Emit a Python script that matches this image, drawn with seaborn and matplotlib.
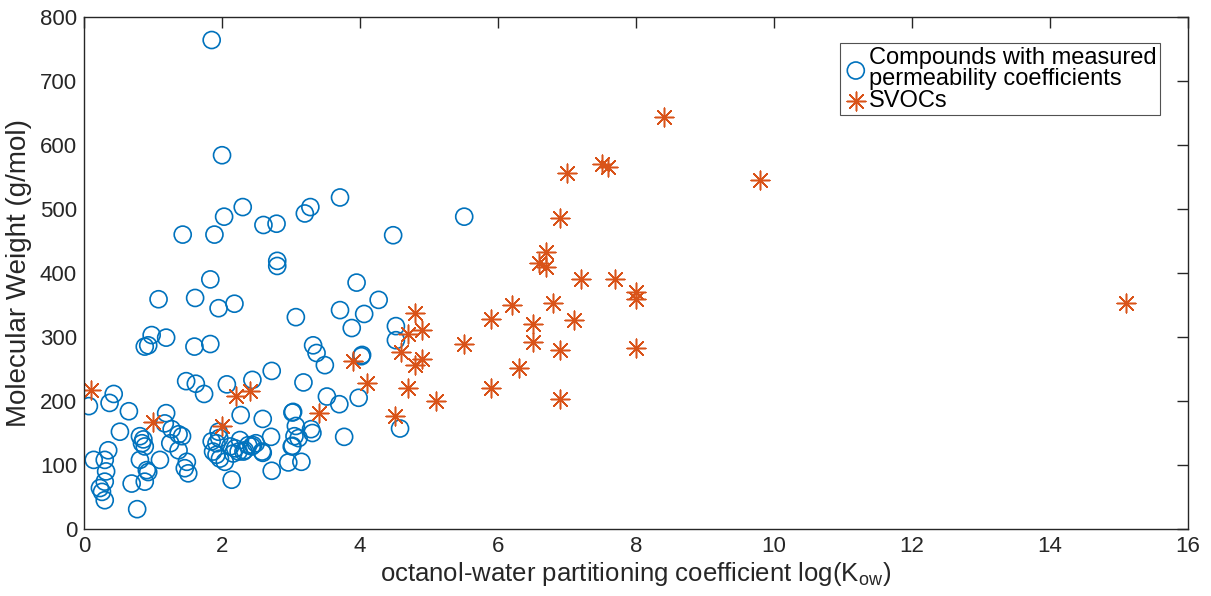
import matplotlib
matplotlib.use("Agg")
import matplotlib.pyplot as plt
import seaborn as sns
import pandas as pd

# Compounds with measured permeability coefficients
perm_logkow = [
    1.85, 2.00, 2.30, 2.03, 1.43, 1.89, 2.60, 2.79, 3.20, 3.28, 3.71, 4.48, 5.51,
    2.80, 2.80, 1.83, 3.95, 1.08, 1.61, 1.95, 2.18, 0.98, 1.19, 0.93, 0.88, 1.60,
    1.83, 1.48, 1.62, 1.74, 2.07, 2.44, 2.72, 0.07, 0.43, 0.37, 0.65, 1.19, 0.52,
    2.27, 2.59, 2.71, 2.72, 1.17, 1.27, 1.37, 1.42, 1.25, 1.37, 1.49, 1.46, 1.51,
    1.10, 0.81, 0.86, 0.84, 0.88, 0.81, 0.91, 0.93, 0.88, 0.69, 0.77, 0.14, 0.35,
    0.30, 0.32, 0.30, 0.23, 0.26, 0.30, 1.95, 1.96, 1.92, 1.87, 1.92, 1.97, 2.04,
    2.14, 2.19, 2.26, 2.33, 2.45, 2.58, 3.07, 3.71, 4.06, 3.88, 4.27, 3.32, 3.37,
    3.49, 4.02, 4.03, 3.18, 3.52, 3.70, 3.98, 3.02, 3.03, 3.07, 3.29, 3.31, 3.05,
    3.11, 3.01, 3.02, 3.77, 2.96, 3.15, 4.52, 4.52, 4.58, 2.38, 2.49, 2.43, 2.31,
    2.59, 2.12, 2.16, 2.24, 1.85,
]
perm_mw = [
    764, 584, 503, 488, 460, 460, 475, 477, 493, 503, 518, 459, 488,
    419, 411, 390, 385, 359, 361, 345, 352, 303, 299, 287, 285, 285,
    289, 231, 227, 211, 226, 233, 247, 192, 211, 197, 184, 181, 152,
    178, 172, 144, 91, 165, 156, 148, 145, 134, 123, 105, 95, 87,
    108, 145, 140, 134, 129, 108, 92, 89, 74, 71, 31, 108, 123,
    108, 90, 74, 64, 58, 45, 152, 142, 134, 121, 116, 110, 105,
    77, 126, 139, 123, 131, 121, 331, 342, 336, 314, 358, 287, 275,
    256, 270, 272, 229, 207, 195, 205, 182, 183, 161, 156, 150, 145,
    142, 129, 130, 144, 104, 105, 317, 295, 157, 131, 134, 129, 121,
    119, 129, 118, 121, 137,
]

# Semi-volatile organic compounds
svoc_logkow = [
    0.1, 1.0, 2.0, 2.2, 2.4, 3.9, 4.1, 3.4, 4.8, 4.9, 4.7, 4.6, 4.9, 4.8,
    4.7, 5.1, 4.5, 5.5, 5.9, 5.9, 6.2, 6.3, 6.5, 6.5, 6.6, 6.7, 6.7, 6.8,
    6.9, 6.9, 6.9, 7.0, 7.1, 7.2, 7.5, 7.6, 7.7, 8.0, 8.0, 8.0, 8.4, 9.8, 15.1,
]
svoc_mw = [
    217, 167, 161, 208, 216, 263, 228, 182, 337, 311, 305, 277, 266, 257,
    220, 200, 177, 289, 328, 220, 350, 251, 321, 292, 416, 433, 409, 353,
    486, 280, 203, 556, 326, 390, 571, 565, 390, 371, 360, 283, 643, 545, 353,
]

perm = pd.DataFrame({"logkow": perm_logkow, "mw": perm_mw})
svoc = pd.DataFrame({"logkow": svoc_logkow, "mw": svoc_mw})

sns.set_theme(style="white")
plt.rcParams["font.family"] = ["Liberation Sans", "DejaVu Sans"]
axcol = "#262626"
plt.rcParams.update({
    "axes.edgecolor": axcol,
    "xtick.color": axcol,
    "ytick.color": axcol,
})

fig = plt.figure(figsize=(12.11, 5.96), dpi=100)
ax = fig.add_axes([0.0694, 0.1124, 0.9116, 0.8591])

blue = "#0072BD"
orange = "#D95319"

sns.scatterplot(data=perm, x="logkow", y="mw", ax=ax, marker="o", s=150,
                facecolor="none", edgecolor=blue, linewidth=1.2,
                label="Compounds with measured\npermeability coefficients")
sns.scatterplot(data=svoc, x="logkow", y="mw", ax=ax, marker=(8, 2, 0), s=180,
                color=orange, linewidth=1.1, label="SVOCs")

ax.set_xlim(0, 16)
ax.set_ylim(0, 800)
ax.set_xticks(range(0, 17, 2))
ax.set_yticks(range(0, 801, 100))
ax.tick_params(axis="both", which="both", direction="in", length=8, width=1,
               labelsize=16, top=True, right=True, pad=5)
for s in ax.spines.values():
    s.set_visible(True)
    s.set_linewidth(1)
    s.set_color(axcol)

ax.set_xlabel("octanol-water partitioning coefficient log(K$_{\\mathregular{ow}}$)",
              fontsize=18.5, color=axcol, labelpad=2)
ax.set_ylabel("Molecular Weight (g/mol)", fontsize=20, color=axcol, labelpad=6)

leg = ax.legend(loc="upper right", bbox_to_anchor=(0.9746, 0.949), fontsize=17,
                frameon=True, fancybox=False, borderpad=0.15, handletextpad=0.05,
                handlelength=1.0, labelspacing=0.0, borderaxespad=0)
leg.get_frame().set_edgecolor(axcol)
leg.get_frame().set_linewidth(0.8)
for t in leg.get_texts():
    t.set_color("black")
    t.set_linespacing(0.95)

fig.savefig("out.png", dpi=100)
